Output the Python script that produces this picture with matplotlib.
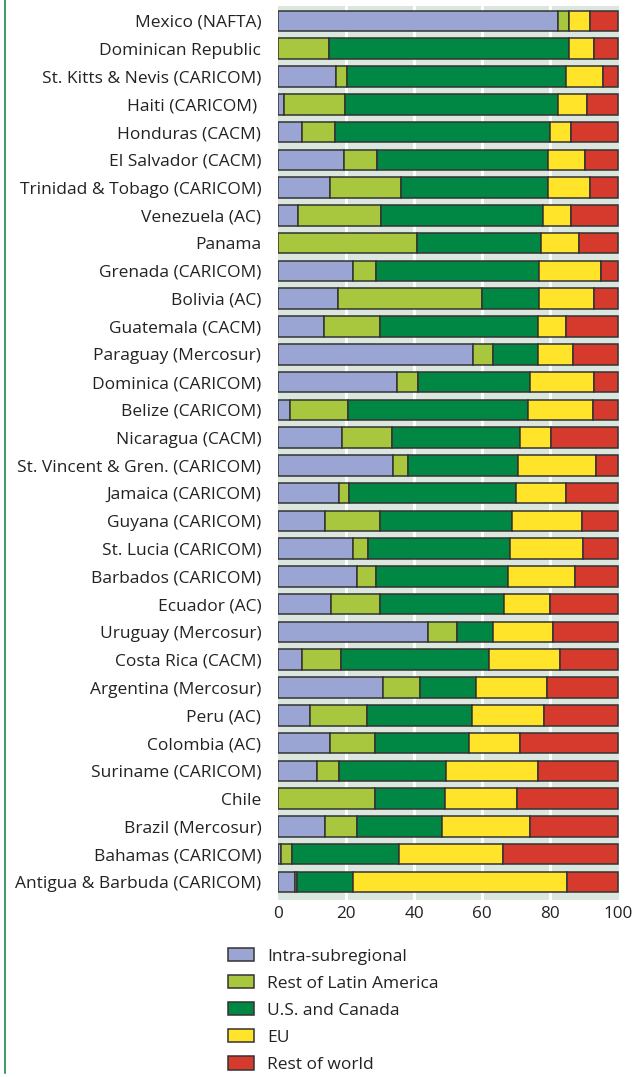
import matplotlib
matplotlib.use("Agg")
import matplotlib.pyplot as plt
from matplotlib.patches import Patch
from matplotlib.lines import Line2D

countries = [
    "Mexico (NAFTA)", "Dominican Republic", "St. Kitts & Nevis (CARICOM)",
    "Haiti (CARICOM) ", "Honduras (CACM)", "El Salvador (CACM)",
    "Trinidad & Tobago (CARICOM)", "Venezuela (AC)", "Panama",
    "Grenada (CARICOM)", "Bolivia (AC)", "Guatemala (CACM)",
    "Paraguay (Mercosur)", "Dominica (CARICOM)", "Belize (CARICOM)",
    "Nicaragua (CACM)", "St. Vincent & Gren. (CARICOM)", "Jamaica (CARICOM)",
    "Guyana (CARICOM)", "St. Lucia (CARICOM)", "Barbados (CARICOM)",
    "Ecuador (AC)", "Uruguay (Mercosur)", "Costa Rica (CACM)",
    "Argentina (Mercosur)", "Peru (AC)", "Colombia (AC)",
    "Suriname (CARICOM)", "Chile", "Brazil (Mercosur)",
    "Bahamas (CARICOM)", "Antigua & Barbuda (CARICOM)",
]

intra_subregional = [82.5, 0.0, 17.1, 1.9, 7.0, 19.3, 15.4, 6.0, 0.0, 22.2, 17.6,
                     13.5, 57.4, 34.9, 3.5, 18.7, 33.9, 18.0, 13.9, 22.1, 23.2,
                     15.6, 44.1, 7.0, 30.9, 9.3, 15.4, 11.6, 0.0, 13.9, 0.8, 4.9]
rest_latin_america = [3.1, 15.1, 3.1, 17.8, 9.8, 9.7, 20.9, 24.4, 41.0, 6.7, 42.3,
                      16.5, 5.8, 6.4, 17.1, 14.8, 4.4, 3.0, 16.0, 4.3, 5.5,
                      14.4, 8.5, 11.4, 10.9, 16.9, 13.1, 6.2, 28.5, 9.3, 3.3, 0.7]
us_canada = [0.0, 70.5, 64.5, 62.8, 63.1, 50.4, 43.1, 47.5, 36.3, 48.0, 17.0,
             46.4, 13.2, 32.7, 52.9, 37.8, 32.3, 48.9, 38.9, 41.7, 39.0,
             36.5, 10.5, 43.7, 16.4, 31.0, 27.6, 31.5, 20.6, 24.9, 31.4, 16.5]
eu = [6.3, 7.2, 10.8, 8.5, 6.2, 10.8, 12.4, 8.3, 11.3, 18.2, 16.0,
      8.3, 10.3, 18.9, 19.2, 8.9, 22.9, 14.7, 20.7, 21.7, 19.8,
      13.5, 17.7, 20.9, 21.0, 20.9, 15.0, 27.2, 21.2, 25.9, 30.7, 62.9]
rest_of_world = [8.1, 7.2, 4.5, 9.0, 13.9, 9.8, 8.2, 13.8, 11.4, 4.9, 7.1,
                 15.3, 13.3, 7.1, 7.3, 19.8, 6.5, 15.4, 10.5, 10.2, 12.5,
                 20.0, 19.2, 17.0, 20.8, 21.9, 28.9, 23.5, 29.7, 26.0, 33.8, 15.0]

series = [
    ("Intra-subregional", intra_subregional, "#9aa5d4"),
    ("Rest of Latin America", rest_latin_america, "#a8c63e"),
    ("U.S. and Canada", us_canada, "#008744"),
    ("EU", eu, "#ffe42a"),
    ("Rest of world", rest_of_world, "#d63a2d"),
]
x_ticks = [0, 20, 40, 60, 80, 100]

font = ["Open Sans", "DejaVu Sans"]
plt.rcParams["font.family"] = font

W, H = 639, 1077
fig = plt.figure(figsize=(W / 100, H / 100), dpi=100)
ax = fig.add_axes([278 / W, 1 - 900 / H, 341 / W, 894 / H])
ax.set_facecolor("#dbe6de")

ypos = list(range(len(countries)))
left = [0.0] * len(countries)
for name, vals, color in series:
    ax.barh(ypos, vals, left=left, height=0.74, color=color,
            edgecolor="#333333", linewidth=1.1, zorder=3)
    left = [l + v for l, v in zip(left, vals)]

for t in x_ticks[1:-1]:
    ax.axvline(t, color="white", linewidth=2.2, zorder=1)

ax.set_xlim(0, 100.3)
ax.set_ylim(31.65, -0.54)
ax.set_yticks(ypos)
ax.set_yticklabels(countries, fontsize=12.5, color="#222222")
ax.set_xticks(x_ticks)
ax.set_xticklabels([str(t) for t in x_ticks], fontsize=12.3, color="#222222")
ax.tick_params(axis="both", length=0)
ax.tick_params(axis="x", pad=4)
ax.tick_params(axis="y", pad=12)
for s in ax.spines.values():
    s.set_visible(False)

handles = [Patch(facecolor=c, edgecolor="#333333", linewidth=1.1, label=n)
           for n, _, c in series]
fig.legend(handles=handles, loc="upper left",
           bbox_to_anchor=(221 / W, 1 - 941 / H), frameon=False,
           fontsize=12.5, handlelength=1.5, handleheight=0.8,
           handletextpad=0.75, labelspacing=0.6, borderaxespad=0,
           labelcolor="#222222")

fig.add_artist(Line2D([5 / W, 5 / W], [1 - 1073 / H, 1.0],
                      transform=fig.transFigure, color="#1f8a4c", linewidth=1.2))

fig.savefig("out.png", dpi=100, facecolor="white")
